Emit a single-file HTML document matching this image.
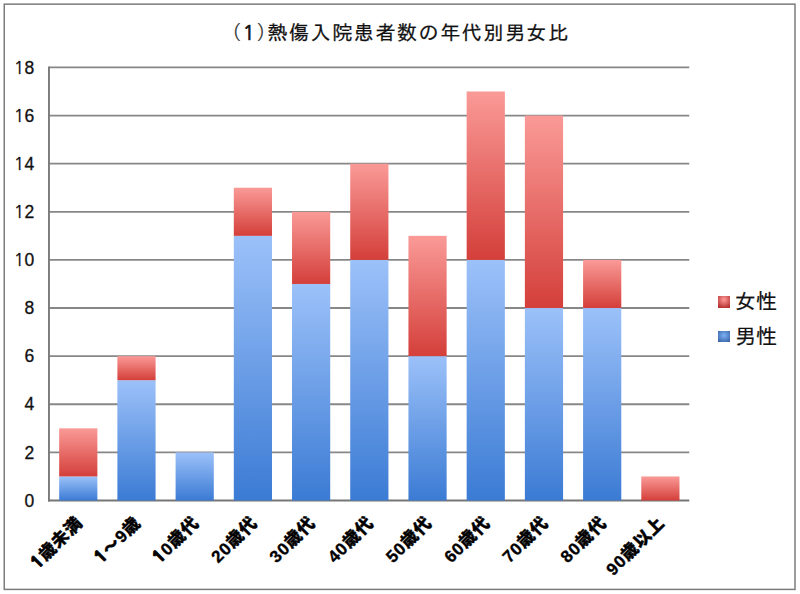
<!DOCTYPE html>
<html><head><meta charset="utf-8">
<style>
html,body{margin:0;padding:0;background:#fff;}
body{width:800px;height:594px;overflow:hidden;}
svg{display:block;}
.g{stroke:#878787;stroke-width:1.8;}
.yl{font-family:"Liberation Sans",sans-serif;font-size:17.5px;fill:#111;stroke:#111;stroke-width:0.3px;text-anchor:end;}
.xl{font-family:"Liberation Sans","Noto Sans CJK JP",sans-serif;font-weight:900;font-size:17px;letter-spacing:0.9px;fill:#000;stroke:#000;stroke-width:0.35px;text-anchor:end;}
.tt{font-family:"IPAGothic",sans-serif;font-size:20px;letter-spacing:1.6px;fill:#111;stroke:#111;stroke-width:0.25px;}
.tp{font-family:"IPAGothic",sans-serif;font-size:20px;fill:#444;}
.t1{font-family:"Liberation Sans",sans-serif;font-size:20.5px;fill:#111;stroke:#111;stroke-width:0.7px;}
.n1{font-family:"NanumGothic",sans-serif;}
.b1{font-family:"NanumGothic",sans-serif;font-weight:800;stroke-width:0.9px;}
.lg{font-family:"IPAGothic",sans-serif;font-size:21px;fill:#111;stroke:#111;stroke-width:0.2px;}
</style></head><body>
<svg width="800" height="594" viewBox="0 0 800 594">
<defs>
<linearGradient id="gb" x1="0" y1="0" x2="0" y2="1"><stop offset="0" stop-color="#9cc1f9"/><stop offset="1" stop-color="#3b7bd4"/></linearGradient>
<linearGradient id="gr" x1="0" y1="0" x2="0" y2="1"><stop offset="0" stop-color="#fa9a97"/><stop offset="1" stop-color="#d43f3a"/></linearGradient>
<radialGradient id="lr" cx="0.5" cy="0.3" r="0.7"><stop offset="0" stop-color="#ff9a9a"/><stop offset="1" stop-color="#b83434"/></radialGradient>
<radialGradient id="lb" cx="0.5" cy="0.4" r="0.7"><stop offset="0" stop-color="#7fb0f5"/><stop offset="1" stop-color="#3766a8"/></radialGradient>
</defs>
<rect x="4.25" y="4.15" width="790.75" height="585.25" fill="none" stroke="#7c7c7c" stroke-width="1.5"/>
<text x="221.8" y="40" class="tp">（</text><text x="242.6" y="39.5" class="t1"><tspan class="n1">1</tspan></text><text x="256" y="40" class="tp">）</text>
<text x="267.4" y="40.2" class="tt">熱傷入院患者数の年代別男女比</text>
<line x1="48.96" y1="452.38" x2="689.30" y2="452.38" class="g"/><line x1="48.96" y1="404.26" x2="689.30" y2="404.26" class="g"/><line x1="48.96" y1="356.14" x2="689.30" y2="356.14" class="g"/><line x1="48.96" y1="308.02" x2="689.30" y2="308.02" class="g"/><line x1="48.96" y1="259.90" x2="689.30" y2="259.90" class="g"/><line x1="48.96" y1="211.78" x2="689.30" y2="211.78" class="g"/><line x1="48.96" y1="163.66" x2="689.30" y2="163.66" class="g"/><line x1="48.96" y1="115.54" x2="689.30" y2="115.54" class="g"/><line x1="48.96" y1="67.42" x2="689.30" y2="67.42" class="g"/>
<line x1="48.96" y1="66.52" x2="48.96" y2="501.40" stroke="#7a7a7a" stroke-width="1.9"/>
<line x1="48.06" y1="500.50" x2="689.30" y2="500.50" stroke="#767676" stroke-width="1.9"/>
<rect x="59.17" y="476.44" width="38.20" height="24.06" fill="url(#gb)"/><rect x="59.17" y="428.32" width="38.20" height="48.12" fill="url(#gr)"/><rect x="117.38" y="380.20" width="38.20" height="120.30" fill="url(#gb)"/><rect x="117.38" y="356.14" width="38.20" height="24.06" fill="url(#gr)"/><rect x="175.59" y="452.38" width="38.20" height="48.12" fill="url(#gb)"/><rect x="233.80" y="235.84" width="38.20" height="264.66" fill="url(#gb)"/><rect x="233.80" y="187.72" width="38.20" height="48.12" fill="url(#gr)"/><rect x="292.02" y="283.96" width="38.20" height="216.54" fill="url(#gb)"/><rect x="292.02" y="211.78" width="38.20" height="72.18" fill="url(#gr)"/><rect x="350.23" y="259.90" width="38.20" height="240.60" fill="url(#gb)"/><rect x="350.23" y="163.66" width="38.20" height="96.24" fill="url(#gr)"/><rect x="408.44" y="356.14" width="38.20" height="144.36" fill="url(#gb)"/><rect x="408.44" y="235.84" width="38.20" height="120.30" fill="url(#gr)"/><rect x="466.66" y="259.90" width="38.20" height="240.60" fill="url(#gb)"/><rect x="466.66" y="91.48" width="38.20" height="168.42" fill="url(#gr)"/><rect x="524.87" y="308.02" width="38.20" height="192.48" fill="url(#gb)"/><rect x="524.87" y="115.54" width="38.20" height="192.48" fill="url(#gr)"/><rect x="583.08" y="308.02" width="38.20" height="192.48" fill="url(#gb)"/><rect x="583.08" y="259.90" width="38.20" height="48.12" fill="url(#gr)"/><rect x="641.29" y="476.44" width="38.20" height="24.06" fill="url(#gr)"/>
<text x="34.2" y="506.70" class="yl">0</text><text x="34.2" y="458.58" class="yl">2</text><text x="34.2" y="410.46" class="yl">4</text><text x="34.2" y="362.34" class="yl">6</text><text x="34.2" y="314.22" class="yl">8</text><text x="34.2" y="266.10" class="yl"><tspan class="n1">1</tspan>0</text><text x="34.2" y="217.98" class="yl"><tspan class="n1">1</tspan>2</text><text x="34.2" y="169.86" class="yl"><tspan class="n1">1</tspan>4</text><text x="34.2" y="121.74" class="yl"><tspan class="n1">1</tspan>6</text><text x="34.2" y="73.62" class="yl"><tspan class="n1">1</tspan>8</text>
<text transform="translate(83.67,523.80) rotate(-45)" class="xl"><tspan class="b1">1</tspan>歳未満</text><text transform="translate(141.88,523.80) rotate(-45)" class="xl"><tspan class="b1">1</tspan>～9歳</text><text transform="translate(200.09,523.80) rotate(-45)" class="xl"><tspan class="b1">1</tspan>0歳代</text><text transform="translate(258.30,523.80) rotate(-45)" class="xl">20歳代</text><text transform="translate(316.52,523.80) rotate(-45)" class="xl">30歳代</text><text transform="translate(374.73,523.80) rotate(-45)" class="xl">40歳代</text><text transform="translate(432.94,523.80) rotate(-45)" class="xl">50歳代</text><text transform="translate(491.16,523.80) rotate(-45)" class="xl">60歳代</text><text transform="translate(549.37,523.80) rotate(-45)" class="xl">70歳代</text><text transform="translate(607.58,523.80) rotate(-45)" class="xl">80歳代</text><text transform="translate(665.79,523.80) rotate(-45)" class="xl">90歳以上</text>
<rect x="718" y="296" width="12" height="12" fill="url(#lr)"/>
<text x="735" y="308.5" class="lg">女性</text>
<rect x="718" y="331" width="12" height="11" fill="url(#lb)"/>
<text x="735" y="343.5" class="lg">男性</text>
</svg>
</body></html>
